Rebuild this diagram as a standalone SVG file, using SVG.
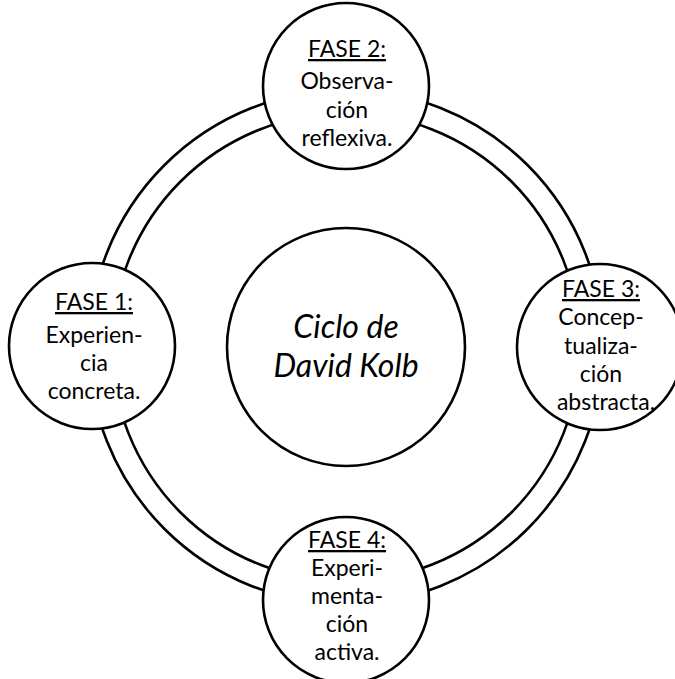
<svg xmlns="http://www.w3.org/2000/svg" width="675" height="679" viewBox="0 0 675 679">
<style>
.ring{fill:none;stroke:#000;stroke-width:2.6}
.node{fill:#fff;stroke:#000;stroke-width:2.6}
.t{font-family:Lato,"Open Sans","Liberation Sans",sans-serif;font-size:23px;fill:#000;text-anchor:middle}
.h{text-decoration:underline}
.c{font-family:Lato,"Open Sans","Liberation Sans",sans-serif;font-size:32px;font-style:italic;fill:#000;text-anchor:middle}
</style>
<rect width="675" height="679" fill="#fff"/>
<g id="connectors">
<circle class="ring" cx="346" cy="347" r="257"/>
<circle class="ring" cx="346" cy="347" r="234"/>
</g>
<g id="center">
<circle class="node" cx="346" cy="347" r="119"/>
<text class="c" x="346" y="338">Ciclo de</text>
<text class="c" x="346" y="377">David Kolb</text>
</g>
<g id="fase2">
<circle class="node" cx="346" cy="86" r="83"/>
<text class="t h" x="347" y="57">FASE 2:</text>
<text class="t" x="347" y="89">Observa-</text>
<text class="t" x="347" y="118">ción</text>
<text class="t" x="347" y="146">reflexiva.</text>
</g>
<g id="fase1">
<circle class="node" cx="92" cy="346" r="83"/>
<text class="t h" x="94" y="310">FASE 1:</text>
<text class="t" x="94" y="343">Experien-</text>
<text class="t" x="94" y="371">cia</text>
<text class="t" x="94" y="399">concreta.</text>
</g>
<g id="fase3">
<circle class="node" cx="600" cy="347" r="83"/>
<text class="t h" x="601" y="297">FASE 3:</text>
<text class="t" x="601" y="325">Concep-</text>
<text class="t" x="601" y="354">tualiza-</text>
<text class="t" x="601" y="382">ción</text>
<text class="t" x="606" y="410">abstracta.</text>
</g>
<g id="fase4">
<circle class="node" cx="346" cy="600" r="83"/>
<text class="t h" x="347" y="548">FASE 4:</text>
<text class="t" x="347" y="576">Experi-</text>
<text class="t" x="347" y="604">menta-</text>
<text class="t" x="347" y="632">ción</text>
<text class="t" x="347" y="660">activa.</text>
</g>
</svg>
